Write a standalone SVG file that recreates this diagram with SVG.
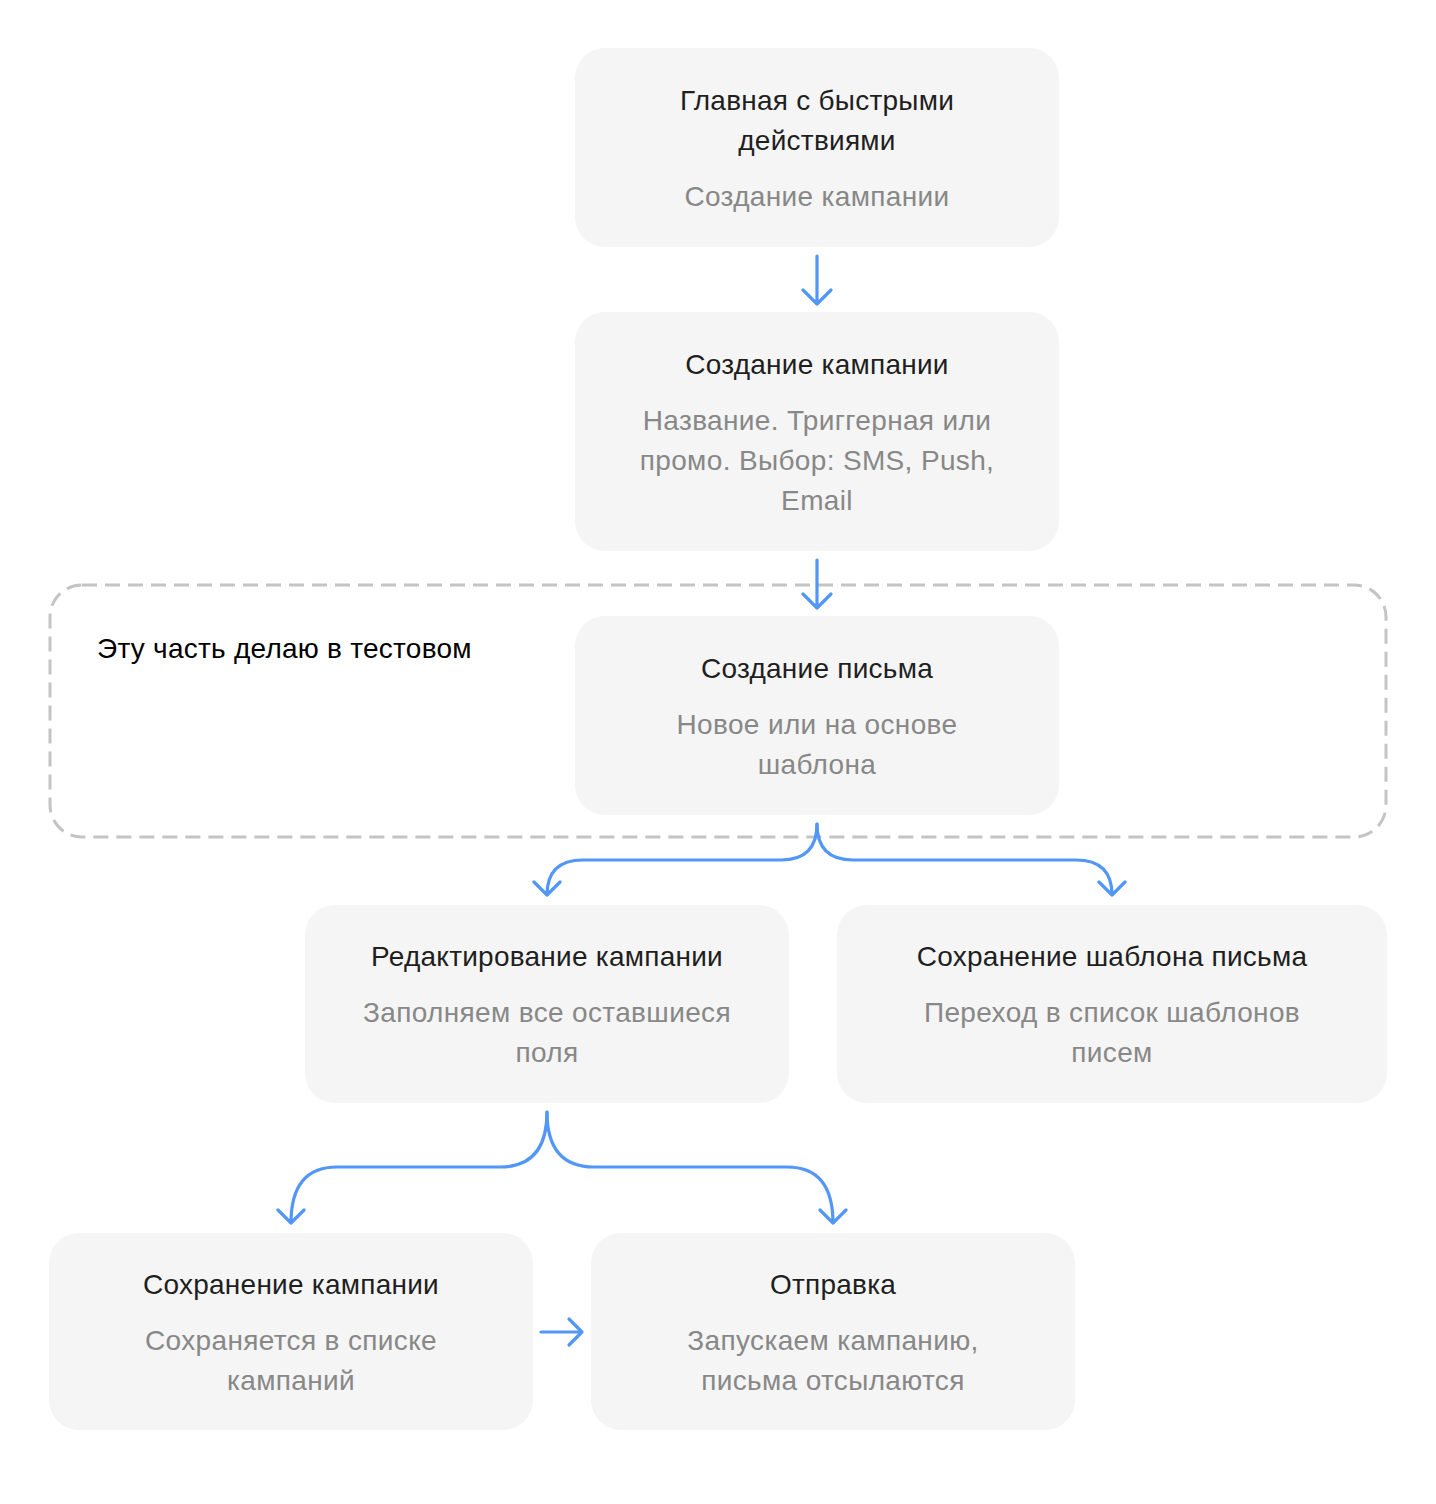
<svg xmlns="http://www.w3.org/2000/svg" width="1436" height="1504" viewBox="0 0 1436 1504">
<style>
.node{fill:#f5f5f5}
.t{font-family:"Liberation Sans",Arial,sans-serif;font-size:28px;letter-spacing:0.25px;fill:#1f1f1f;text-anchor:middle}
.s{font-family:"Liberation Sans",Arial,sans-serif;font-size:28px;letter-spacing:0.35px;fill:#888888;text-anchor:middle}
.c{fill:none;stroke:#5297f8;stroke-width:3.2;stroke-linecap:round;stroke-linejoin:round}
</style>
<rect width="1436" height="1504" fill="#ffffff"/>
<g id="group-test">
<rect x="50" y="585" width="1336" height="252" rx="32" fill="none" stroke="#c4c4c4" stroke-width="3" stroke-dasharray="15 8"/>
<text x="97" y="658" font-family="Liberation Sans,Arial,sans-serif" font-size="28" letter-spacing="0.25" fill="#000000">Эту часть делаю в тестовом</text>
</g>
<g id="connectors">
<path class="c" d="M817,256 L817,304 M803,290 L817,304 L831,290"/>
<path class="c" d="M817,560 L817,608 M803,594 L817,608 L831,594"/>
<path class="c" d="M817,824 Q817,860 781,860 L583,860 Q547,860 547,895 M534,882 L547,895 L560,882"/>
<path class="c" d="M817,824 Q817,860 853,860 L1076,860 Q1112,860 1112,895 M1099,882 L1112,895 L1125,882"/>
<path class="c" d="M547,1112 Q547,1167 500,1167 L337,1167 Q291,1167 291,1223 M278,1210 L291,1223 L304,1210"/>
<path class="c" d="M547,1112 Q547,1167 594,1167 L787,1167 Q833,1167 833,1223 M820,1210 L833,1223 L846,1210"/>
<path class="c" d="M541,1332 L582,1332 M569,1319 L582,1332 L569,1345"/>
</g>
<g id="n1">
<rect class="node" x="575" y="48" width="484" height="199" rx="30"/>
<text class="t" x="817" y="110">Главная с быстрыми</text>
<text class="t" x="817" y="150">действиями</text>
<text class="s" x="817" y="206">Создание кампании</text>
</g>
<g id="n2">
<rect class="node" x="575" y="312" width="484" height="239" rx="30"/>
<text class="t" x="817" y="374">Создание кампании</text>
<text class="s" x="817" y="430">Название. Триггерная или</text>
<text class="s" x="817" y="470">промо. Выбор: SMS, Push,</text>
<text class="s" x="817" y="510">Email</text>
</g>
<g id="n3">
<rect class="node" x="575" y="616" width="484" height="199" rx="30"/>
<text class="t" x="817" y="678">Создание письма</text>
<text class="s" x="817" y="734">Новое или на основе</text>
<text class="s" x="817" y="774">шаблона</text>
</g>
<g id="n4">
<rect class="node" x="305" y="905" width="484" height="198" rx="30"/>
<text class="t" x="547" y="966">Редактирование кампании</text>
<text class="s" x="547" y="1022">Заполняем все оставшиеся</text>
<text class="s" x="547" y="1062">поля</text>
</g>
<g id="n5">
<rect class="node" x="837" y="905" width="550" height="198" rx="30"/>
<text class="t" x="1112" y="966">Сохранение шаблона письма</text>
<text class="s" x="1112" y="1022">Переход в список шаблонов</text>
<text class="s" x="1112" y="1062">писем</text>
</g>
<g id="n6">
<rect class="node" x="49" y="1233" width="484" height="197" rx="30"/>
<text class="t" x="291" y="1294">Сохранение кампании</text>
<text class="s" x="291" y="1350">Сохраняется в списке</text>
<text class="s" x="291" y="1390">кампаний</text>
</g>
<g id="n7">
<rect class="node" x="591" y="1233" width="484" height="197" rx="30"/>
<text class="t" x="833" y="1294">Отправка</text>
<text class="s" x="833" y="1350">Запускаем кампанию,</text>
<text class="s" x="833" y="1390">письма отсылаются</text>
</g>
</svg>
